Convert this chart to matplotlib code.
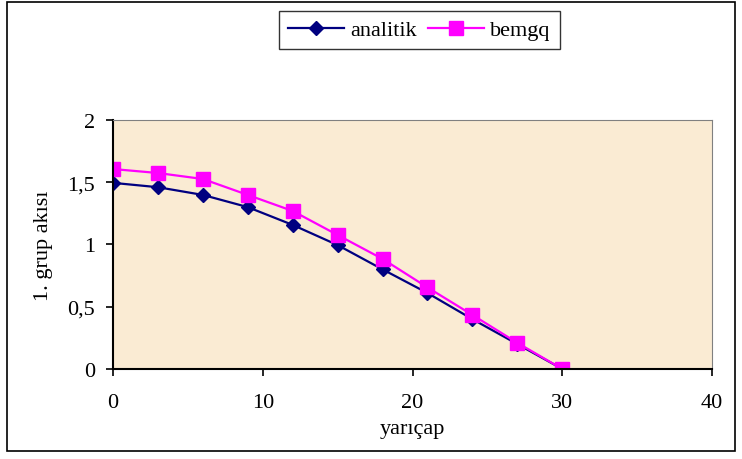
import numpy as np
import matplotlib.pyplot as plt
from matplotlib.patches import Rectangle

plt.rcParams['font.family'] = ['Liberation Serif', 'DejaVu Serif']

# data
r = [0, 3, 6, 9, 12, 15, 18, 21, 24, 27, 30]
analitik = [1.495, 1.46, 1.398, 1.30, 1.157, 0.995, 0.80, 0.61, 0.40, 0.20, 0.0]
bemgq = [1.606, 1.574, 1.526, 1.398, 1.269, 1.076, 0.884, 0.655, 0.434, 0.21, 0.0]

fig = plt.figure(figsize=(7.42, 4.6), dpi=100)
ax = fig.add_axes([0.1523, 0.1957, 0.8073, 0.5413])
ax.set_facecolor('#FAEBD3')

ax.plot(r, analitik, color='#000080', lw=1.6, marker='D', ms=7.5,
        mfc='#000080', mec='#000080', label='analitik')
ax.plot(r, bemgq, color='#FF00FF', lw=1.6, marker='s', ms=10,
        mfc='#FF00FF', mec='#FF00FF', label='bemgq')

ax.set_xlim(0, 40)
ax.set_ylim(0, 2)
ax.set_xticks([0, 10, 20, 30, 40])
ax.set_yticks([0, 0.5, 1, 1.5, 2])
ax.set_yticklabels(['0', '0,5', '1', '1,5', '2'])
ax.tick_params(labelsize=16, length=5, width=1.2, direction='out')
ax.tick_params(axis='y', pad=8)
ax.tick_params(axis='x', pad=12)
for s in ['left', 'bottom']:
    ax.spines[s].set_linewidth(1.5)
for s in ['top', 'right']:
    ax.spines[s].set_color('#808080')
    ax.spines[s].set_linewidth(0.8)

ax.set_xlabel('yarıçap', fontsize=16, labelpad=5)
ax.set_ylabel('1. grup akısı', fontsize=16, labelpad=10)

leg = fig.legend(loc='upper center', bbox_to_anchor=(0.5654, 0.974), ncol=2,
                 fontsize=16, frameon=True, fancybox=False, edgecolor='black',
                 handlelength=2.5, columnspacing=0.5, handletextpad=0.3,
                 borderpad=0.4, borderaxespad=0)
leg.get_frame().set_linewidth(1.0)

fig.patches.append(Rectangle((7 / 742, 1 - 452 / 460), 728 / 742, 449 / 460,
                             transform=fig.transFigure, fill=False,
                             edgecolor='black', lw=1.2))

fig.savefig('out.png', dpi=100)
